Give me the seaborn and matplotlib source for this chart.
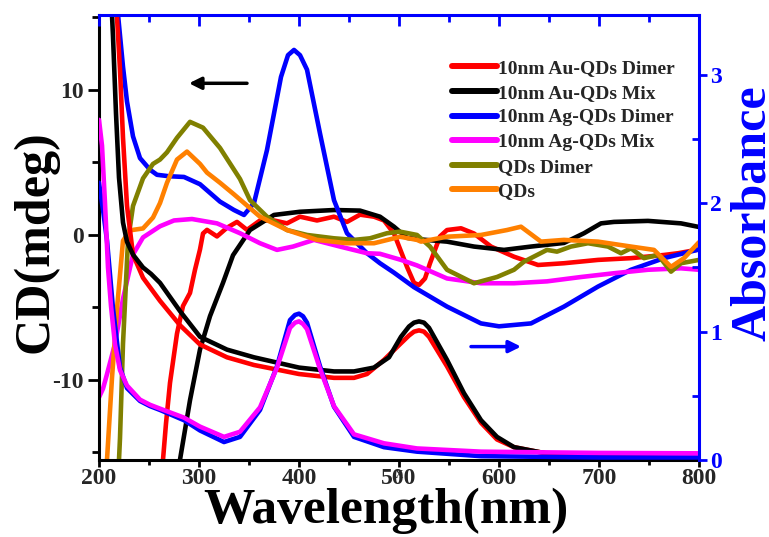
import numpy as np
import pandas as pd
import matplotlib
matplotlib.use("Agg")
import matplotlib.pyplot as plt
import seaborn as sns
from matplotlib.ticker import MultipleLocator
from matplotlib.lines import Line2D

sns.set_theme(style="ticks")
plt.rcParams["font.family"] = ["Liberation Serif", "DejaVu Serif"]
plt.rcParams["font.weight"] = "bold"
plt.rcParams["axes.unicode_minus"] = False

# ---------------- CD spectra (left axis, mdeg) ----------------
au_dimer_cd_x = [262, 264, 267, 271, 278, 284, 291, 296, 301, 304, 308, 318, 328, 338, 348, 361, 375, 388, 401, 418, 435, 448, 461, 475, 485, 495, 508, 515, 520, 526, 531, 541, 548, 562, 575, 592, 615, 639, 665, 699, 732, 765, 779, 800]
au_dimer_cd_y = [-17, -15.5, -13, -10.2, -6.8, -4.9, -4.0, -2.4, -1.0, 0.1, 0.35, -0.1, 0.5, 0.9, 0.35, 1.0, 1.0, 0.8, 1.26, 1.0, 1.26, 0.9, 1.4, 1.26, 1.0, 0.1, -2.2, -3.3, -3.45, -3.0, -1.95, -0.1, 0.34, 0.46, 0.1, -0.8, -1.5, -2.07, -1.95, -1.72, -1.6, -1.38, -1.26, -1.0]

au_mix_cd_x = [276, 281, 291, 301, 311, 324, 334, 351, 375, 401, 435, 461, 481, 495, 508, 520, 548, 575, 605, 632, 665, 685, 702, 715, 749, 782, 800]
au_mix_cd_y = [-17, -15.5, -11.4, -7.9, -5.6, -3.3, -1.4, 0.34, 1.38, 1.6, 1.72, 1.68, 1.26, 0.57, -0.2, -0.3, -0.46, -0.8, -1.03, -0.8, -0.55, 0.12, 0.8, 0.9, 0.97, 0.8, 0.55]

ag_dimer_cd_x = [216, 219, 224, 228, 234, 241, 251, 258, 270, 285, 301, 321, 335, 345, 355, 368, 382, 389, 395, 401, 408, 421, 435, 448, 468, 481, 495, 515, 548, 582, 600, 632, 665, 699, 732, 765, 800]
ag_dimer_cd_y = [18, 15.2, 11.6, 9.2, 6.8, 5.3, 4.5, 4.15, 4.05, 4.0, 3.5, 2.3, 1.72, 1.38, 2.2, 5.86, 10.9, 12.4, 12.76, 12.4, 11.4, 7.0, 2.4, 0.12, -1.26, -1.95, -2.6, -3.6, -4.94, -6.1, -6.3, -6.1, -4.94, -3.56, -2.4, -1.6, -1.0]

ag_mix_cd_x = [200, 204, 208, 216, 224, 234, 244, 261, 275, 293, 318, 341, 361, 378, 394, 415, 441, 468, 481, 502, 518, 548, 582, 615, 648, 682, 715, 749, 782, 800]
ag_mix_cd_y = [-11.2, -10.6, -9.6, -7.5, -4.4, -1.35, -0.17, 0.6, 1.0, 1.1, 0.8, 0.12, -0.57, -1.03, -0.8, -0.34, -0.8, -1.26, -1.3, -1.72, -2.1, -3.0, -3.33, -3.33, -3.2, -2.9, -2.64, -2.4, -2.3, -2.4]

qds_dimer_cd_x = [219, 221, 224, 229, 234, 244, 254, 261, 268, 278, 291, 304, 321, 341, 351, 368, 388, 408, 435, 455, 471, 488, 501, 518, 531, 548, 575, 598, 615, 625, 648, 658, 672, 689, 709, 722, 732, 745, 759, 772, 782, 800]
qds_dimer_cd_y = [-17, -14, -7.5, -0.4, 2.0, 3.9, 4.9, 5.2, 5.7, 6.7, 7.8, 7.4, 6.0, 3.86, 2.4, 1.26, 0.34, 0.0, -0.23, -0.34, -0.23, 0.12, 0.23, 0.0, -0.8, -2.4, -3.33, -2.9, -2.4, -1.84, -1.03, -1.15, -0.8, -0.57, -0.8, -1.26, -0.92, -1.6, -1.38, -2.53, -1.95, -1.72]

qds_cd_x = [206, 208, 213, 218, 224, 231, 244, 254, 261, 268, 278, 288, 301, 308, 321, 335, 361, 388, 418, 448, 475, 495, 501, 518, 522, 548, 582, 608, 622, 642, 665, 699, 732, 755, 772, 785, 800]
qds_cd_y = [-17, -15.5, -9.85, -5.1, -0.4, 0.32, 0.45, 1.2, 2.2, 3.6, 5.2, 5.75, 4.9, 4.3, 3.6, 2.8, 1.26, 0.34, -0.34, -0.57, -0.57, -0.23, -0.12, -0.34, -0.46, -0.12, 0.0, 0.34, 0.57, -0.46, -0.34, -0.46, -0.8, -1.03, -2.2, -1.6, -0.5]

# ---------------- Absorbance spectra (right axis) ----------------
au_dimer_abs_x = [213, 218, 221, 224, 228, 234, 244, 261, 281, 301, 328, 355, 368, 400, 435, 455, 468, 485, 502, 510, 515, 520, 525, 530, 548, 565, 582, 598, 615, 648, 700, 800]
au_dimer_abs_y = [3.8, 3.45, 3.04, 2.51, 1.98, 1.6, 1.42, 1.24, 1.05, 0.9, 0.8, 0.74, 0.72, 0.67, 0.64, 0.64, 0.67, 0.78, 0.91, 0.97, 1.0, 1.01, 1.0, 0.96, 0.73, 0.49, 0.29, 0.16, 0.10, 0.05, 0.025, 0.015]

au_mix_abs_x = [211, 214, 217, 220, 224, 228, 234, 244, 252, 261, 281, 301, 328, 355, 400, 435, 455, 475, 490, 502, 510, 515, 520, 525, 530, 548, 565, 582, 598, 615, 648, 700, 800]
au_mix_abs_y = [3.8, 3.3, 2.7, 2.2, 1.85, 1.7, 1.6, 1.5, 1.45, 1.38, 1.16, 0.96, 0.86, 0.8, 0.72, 0.69, 0.69, 0.72, 0.8, 0.96, 1.04, 1.07, 1.08, 1.07, 1.03, 0.78, 0.52, 0.31, 0.18, 0.10, 0.05, 0.02, 0.01]

ag_dimer_abs_x = [200, 204, 208, 214, 221, 228, 241, 251, 261, 285, 301, 325, 341, 361, 378, 391, 396, 400, 404, 408, 421, 435, 455, 485, 518, 582, 700, 800]
ag_dimer_abs_y = [2.16, 1.95, 1.71, 1.18, 0.72, 0.56, 0.46, 0.42, 0.39, 0.31, 0.23, 0.14, 0.18, 0.39, 0.73, 1.09, 1.13, 1.14, 1.12, 1.07, 0.73, 0.415, 0.18, 0.10, 0.065, 0.03, 0.02, 0.02]

ag_mix_abs_x = [200, 203, 206, 209, 212, 216, 221, 228, 241, 251, 261, 285, 301, 325, 341, 361, 378, 391, 396, 400, 404, 408, 421, 435, 455, 485, 518, 582, 700, 800]
ag_mix_abs_y = [2.65, 2.45, 2.0, 1.5, 1.2, 0.9, 0.7, 0.58, 0.47, 0.43, 0.4, 0.33, 0.26, 0.18, 0.22, 0.41, 0.72, 1.03, 1.07, 1.08, 1.06, 1.02, 0.71, 0.42, 0.2, 0.13, 0.09, 0.065, 0.055, 0.052]

labels = ["10nm Au-QDs Dimer", "10nm Au-QDs Mix", "10nm Ag-QDs Dimer",
          "10nm Ag-QDs Mix", "QDs Dimer", "QDs"]
colors = ["#ff0000", "#000000", "#0000ff", "#ff00ff", "#808000", "#ff8000"]

cd_series = [(au_dimer_cd_x, au_dimer_cd_y), (au_mix_cd_x, au_mix_cd_y),
             (ag_dimer_cd_x, ag_dimer_cd_y), (ag_mix_cd_x, ag_mix_cd_y),
             (qds_dimer_cd_x, qds_dimer_cd_y), (qds_cd_x, qds_cd_y)]
abs_series = [(au_dimer_abs_x, au_dimer_abs_y, colors[0]),
              (au_mix_abs_x, au_mix_abs_y, colors[1]),
              (ag_dimer_abs_x, ag_dimer_abs_y, colors[2]),
              (ag_mix_abs_x, ag_mix_abs_y, colors[3])]

LW = 3.3
fig = plt.figure(figsize=(7.69, 5.37), dpi=100)
ax = fig.add_axes([99 / 769, 77 / 537, 600 / 769, 445 / 537])
ax2 = ax.twinx()

for (xs, ys), c in zip(cd_series, colors):
    df = pd.DataFrame({"x": xs, "y": ys})
    sns.lineplot(data=df, x="x", y="y", ax=ax, color=c, linewidth=LW,
                 estimator=None, sort=False, legend=False)

for xs, ys, c in abs_series:
    df = pd.DataFrame({"x": xs, "y": ys})
    sns.lineplot(data=df, x="x", y="y", ax=ax2, color=c, linewidth=LW,
                 estimator=None, sort=False, legend=False)

ax.set_xlim(200, 800)
ax.set_ylim(-15.52, 15.17)
ax2.set_ylim(0, 3.467)

# ticks
ax.xaxis.set_major_locator(MultipleLocator(100))
ax.xaxis.set_minor_locator(MultipleLocator(50))
ax.yaxis.set_major_locator(MultipleLocator(10))
ax.yaxis.set_minor_locator(MultipleLocator(5))
ax2.yaxis.set_major_locator(MultipleLocator(1))
ax2.yaxis.set_minor_locator(MultipleLocator(0.5))

ax.tick_params(axis="y", which="major", direction="out", length=8, width=2,
               color="black", labelsize=17, pad=3, right=False)
ax.tick_params(axis="y", which="minor", direction="out", length=5, width=2,
               color="black", right=False)
ax.tick_params(axis="x", which="major", direction="out", length=5, width=2,
               color="black", labelsize=17, pad=0.5, top=False)
ax.tick_params(axis="x", which="minor", direction="out", length=3.5, width=2,
               color="black", top=False)
ax2.tick_params(axis="y", which="major", direction="out", length=6, width=2,
                colors="#0000ff", labelsize=17, pad=2)
ax2.tick_params(axis="y", which="minor", direction="in", length=5, width=2,
                colors="#0000ff")
# top ticks (blue, inward) on the twin axis
ax2.xaxis.set_visible(True)
ax2.tick_params(axis="x", which="both", bottom=False, top=True,
                labelbottom=False, labeltop=False, direction="in",
                colors="#0000ff", width=2)
ax2.tick_params(axis="x", which="major", length=8)
ax2.tick_params(axis="x", which="minor", length=5)

for lab in ax.get_xticklabels() + ax.get_yticklabels() + ax2.get_yticklabels():
    lab.set_fontweight("bold")

# spines
for s in ["left", "bottom"]:
    ax.spines[s].set_color("black")
    ax.spines[s].set_linewidth(2.2)
for s in ["top", "right"]:
    ax.spines[s].set_visible(False)
for s in ["left", "bottom"]:
    ax2.spines[s].set_visible(False)
for s in ["top", "right"]:
    ax2.spines[s].set_visible(True)
    ax2.spines[s].set_color("#0000ff")
    ax2.spines[s].set_linewidth(2.2)

# labels
ax.set_xlabel("Wavelength(nm)", fontsize=37, fontweight="bold", color="black")
ax.set_ylabel("CD(mdeg)", fontsize=36, fontweight="bold", color="black")
ax2.set_ylabel("Absorbance", fontsize=36, fontweight="bold", color="#0000ff")
ax.xaxis.set_label_coords(0.4775, -0.062)
ax.yaxis.set_label_coords(-0.068, 0.49)
ax2.yaxis.set_label_coords(1.051, 0.555)

# arrows
ax.annotate("", xy=(290, 10.46), xytext=(348, 10.46),
            arrowprops=dict(arrowstyle="-|>", color="black", lw=2.5,
                            mutation_scale=18, shrinkA=0, shrinkB=0))
ax.annotate("", xy=(622, -7.7), xytext=(572, -7.7),
            arrowprops=dict(arrowstyle="-|>", color="#0000ff", lw=2.5,
                            mutation_scale=18, shrinkA=0, shrinkB=0))

# legend
handles = [Line2D([0], [0], color=c, lw=LW + 1) for c in colors]
leg = ax2.legend(handles, labels, loc="upper left", bbox_to_anchor=(0.588, 0.9),
                 frameon=False, prop={"family": ["Liberation Serif", "DejaVu Serif"],
                                      "weight": "bold", "size": 14},
                 handlelength=2.3, handletextpad=0.1, labelspacing=0.36,
                 borderpad=0, borderaxespad=0)

fig.savefig("out.png", dpi=100)
